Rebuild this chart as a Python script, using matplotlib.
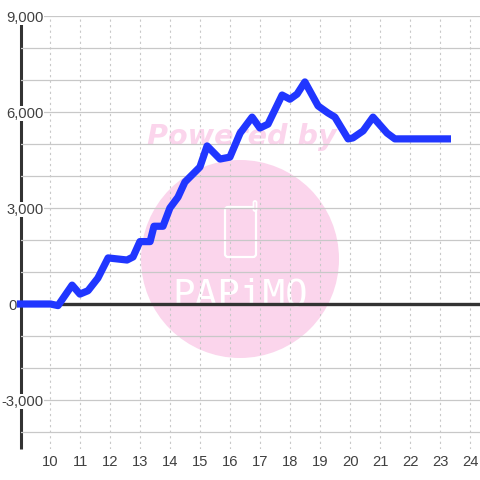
import matplotlib
matplotlib.use('Agg')
import matplotlib.pyplot as plt
from matplotlib.patches import Circle, FancyBboxPatch
from matplotlib.transforms import Affine2D

# line
hours = [9, 10, 10.25, 10.72, 10.98, 11.25, 11.58, 11.92, 12.55, 12.75, 12.98, 13.32, 13.45,
         13.75, 13.98, 14.25, 14.48, 14.98, 15.22, 15.65, 15.98, 16.32, 16.72, 16.98, 17.25,
         17.72, 17.98, 18.22, 18.48, 18.92, 19.25, 19.48, 19.92, 20.08, 20.42, 20.75,
         21.22, 21.48, 23.23]
values = [0, 0, -50, 590, 310, 415, 810, 1440, 1375, 1470, 1950, 1950, 2430,
          2430, 3000, 3340, 3810, 4280, 4940, 4530, 4590, 5340, 5840, 5500, 5620,
          6530, 6400, 6560, 6940, 6190, 5970, 5840, 5160, 5190, 5410, 5840,
          5340, 5160, 5160]

x_ticks = list(range(10, 25))
y_major = [-3000, 0, 3000, 6000, 9000]
y_major_labels = ['-3,000', '0', '3,000', '6,000', '9,000']
y_minor = [-4000, -2000, -1000, 1000, 2000, 4000, 5000, 7000, 8000]

plt.rcParams['font.family'] = ['Liberation Sans', 'DejaVu Sans']

BLUE = '#2036ff'
DARK = '#333333'
LABEL = '#404040'
GRID = '#c8c8c8'
PINK = '#fbd5ec'

fig = plt.figure(figsize=(4.8, 4.8), dpi=100)
# axes box in pixels: left 20.5, right 480, top 16, bottom 449
ax = fig.add_axes([20.5 / 480, (480 - 449) / 480, (480 - 20.5) / 480, (449 - 16) / 480])
ax.set_xlim(9, 24.317)
ax.set_ylim(-4531, 9000)

for s in ['top', 'right', 'bottom']:
    ax.spines[s].set_visible(False)
ax.spines['left'].set_linewidth(2.2)
ax.spines['left'].set_color(DARK)
ax.spines['left'].set_capstyle('butt')

ax.set_xticks(x_ticks)
ax.set_yticks(y_major)
ax.set_yticklabels(y_major_labels)
ax.set_yticks(y_minor, minor=True)
ax.tick_params(axis='both', which='both', length=0)
ax.tick_params(axis='x', labelsize=10.6, labelcolor=LABEL, pad=4)
ax.tick_params(axis='y', labelsize=10.6, labelcolor=LABEL, pad=-0.5)
ax.xaxis.grid(True, color=GRID, linestyle=(0, (2, 3)), linewidth=0.8)
ax.yaxis.grid(True, which='both', color=GRID, linewidth=0.9)
ax.xaxis.set_zorder(2.55)
ax.yaxis.set_zorder(2.6)
# labels sit on white boxes that cut the spine and the grid, except the 0
for lab, txt in zip(ax.get_yticklabels(), y_major_labels):
    if txt == '0':
        lab.set_x(-4.5 / 459.5)
    else:
        lab.set_bbox(dict(facecolor='white', edgecolor='none', pad=0.5))
        lab.set_x(22.5 / 459.5)
ax.set_facecolor('white')

# watermark, placed in pixel coordinates
px = Affine2D().scale(1, -1).translate(0, 480)
ax.add_patch(Circle((240, 259), 99, transform=px, facecolor=PINK, edgecolor='none', zorder=1))
ax.text(242, 145, 'Powered by', transform=px, color=PINK, fontsize=20.6, ha='center', va='baseline',
        family='DejaVu Sans', fontweight='bold', fontstyle='italic', zorder=1)
ax.add_patch(FancyBboxPatch((225, 207), 31, 50, boxstyle='round,pad=0,rounding_size=3', transform=px,
                            facecolor='none', edgecolor='white', linewidth=1.6, zorder=1.2))
ax.add_patch(FancyBboxPatch((253.5, 201), 3, 10, boxstyle='round,pad=0,rounding_size=1.5', transform=px,
                            facecolor=PINK, edgecolor='white', linewidth=1.3, zorder=1.3))
ax.text(240, 306, 'PAPiMO', transform=px, color='white', fontsize=27, ha='center', va='baseline',
        family='DejaVu Sans Mono', zorder=1.2)

ax.axhline(0, color=DARK, linewidth=2.4, zorder=2.8)
ax.plot(hours, values, color=BLUE, linewidth=5.2, solid_joinstyle='round', solid_capstyle='projecting',
        clip_on=False, zorder=3)

fig.savefig('out.png', dpi=100)
